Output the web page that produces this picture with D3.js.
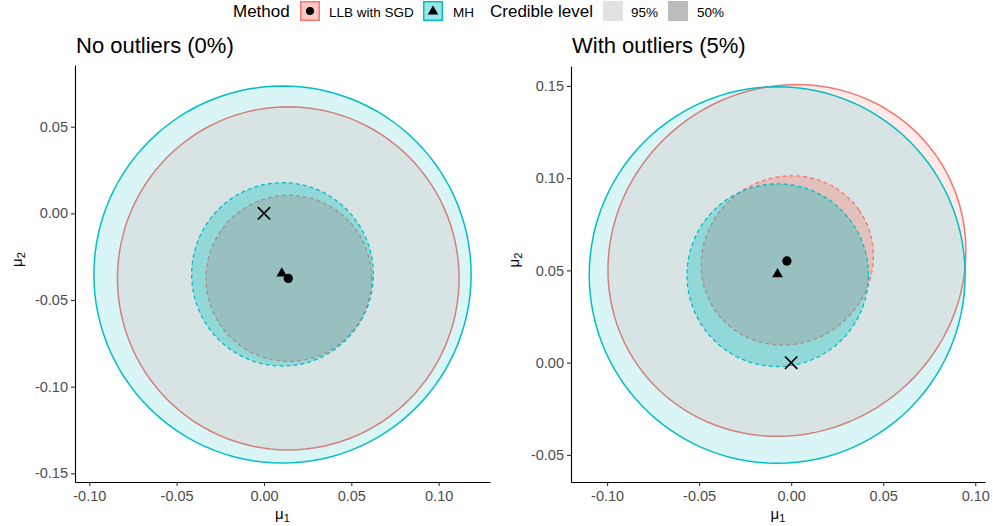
<!DOCTYPE html>
<html>
<head>
<meta charset="utf-8">
<script src="https://cdn.jsdelivr.net/npm/d3@7"></script>
<style>
  body { margin: 0; background: #fff; }
  svg { font-family: "Liberation Sans", Arial, sans-serif; }
</style>
</head>
<body>
<div id="chart"></div>
<script>
// ---- data ----
const methods = ["LLB with SGD", "MH"];
const levels = ["95%", "50%"];
const panelTitles = ["No outliers (0%)", "With outliers (5%)"];

const xDomains = [[-0.1082, 0.1294], [-0.1196, 0.1053]];
const yDomains = [[-0.155, 0.0856], [-0.0647, 0.1608]];
const xTicks = [[-0.10, -0.05, 0.00, 0.05, 0.10], [-0.10, -0.05, 0.00, 0.05, 0.10]];
const yTicks = [[-0.15, -0.10, -0.05, 0.00, 0.05], [-0.05, 0.00, 0.05, 0.10, 0.15]];

// ellipses: panel, method, level, centre, semi axes, rotation (deg)
const ellipsePanel  = [0, 0, 0, 0, 1, 1, 1, 1];
const ellipseMethod = ["LLB with SGD", "MH", "LLB with SGD", "MH", "LLB with SGD", "MH", "LLB with SGD", "MH"];
const ellipseLevel  = ["95%", "95%", "50%", "50%", "95%", "95%", "50%", "50%"];
const ellipseCx     = [0.0139, 0.0106, 0.0142, 0.0106, -0.0023, -0.0076, -0.0021, -0.0073];
const ellipseCy     = [-0.0375, -0.0353, -0.0375, -0.0352, 0.0554, 0.0475, 0.0554, 0.0474];
const ellipseA      = [0.0978, 0.1080, 0.0474, 0.0520, 0.0990, 0.1021, 0.0476, 0.0493];
const ellipseB      = [0.0990, 0.1088, 0.0479, 0.0529, 0.0935, 0.1021, 0.0450, 0.0495];
const ellipseAngle  = [0, 0, 0, 0, 35, 0, 35, 0];

// point estimates and true value
const meanPanel  = [0, 0, 1, 1];
const meanMethod = ["MH", "LLB with SGD", "MH", "LLB with SGD"];
const meanX      = [0.0102, 0.0139, -0.0074, -0.0023];
const meanY      = [-0.0347, -0.0375, 0.0480, 0.0551];
const trueX = [0, 0];
const trueY = [0, 0];

// ---- layout ----
const width = 993, height = 526;
const panels = [
  { left: 75, right: 490, top: 65, bottom: 482 },
  { left: 571, right: 985, top: 66, bottom: 482 }
];
const colors = d3.scaleOrdinal().domain(methods).range(["#F8766D", "#00BFC4"]);
const alpha = d3.scaleOrdinal().domain(levels).range([0.15, 0.33]);
const dash = d3.scaleOrdinal().domain(levels).range([null, "4,3"]);
const lineW = d3.scaleOrdinal().domain(levels).range([1.5, 1.3]);

const svg = d3.select("#chart").append("svg")
  .attr("width", width).attr("height", height);

const fmt = d => d3.format(".2f")(d).replace("\u2212", "-");

const ellipses = ellipsePanel.map((p, i) => ({
  panel: p, method: ellipseMethod[i], level: ellipseLevel[i],
  cx: ellipseCx[i], cy: ellipseCy[i], a: ellipseA[i], b: ellipseB[i], angle: ellipseAngle[i]
}));
const means = meanPanel.map((p, i) => ({ panel: p, method: meanMethod[i], x: meanX[i], y: meanY[i] }));

const steps = d3.range(0, 120);

panels.forEach((pn, pi) => {
  const x = d3.scaleLinear().domain(xDomains[pi]).range([pn.left, pn.right]);
  const y = d3.scaleLinear().domain(yDomains[pi]).range([pn.bottom, pn.top]);
  const g = svg.append("g");

  // ellipse outlines + fills
  const line = e => d3.line()
    .x(t => {
      const th = e.angle * Math.PI / 180, u = t / steps.length * 2 * Math.PI;
      return x(e.cx + e.a * Math.cos(u) * Math.cos(th) - e.b * Math.sin(u) * Math.sin(th));
    })
    .y(t => {
      const th = e.angle * Math.PI / 180, u = t / steps.length * 2 * Math.PI;
      return y(e.cy + e.a * Math.cos(u) * Math.sin(th) + e.b * Math.sin(u) * Math.cos(th));
    })
    .curve(d3.curveLinearClosed)(steps);

  ellipses.filter(e => e.panel === pi).forEach(e => {
    g.append("path")
      .attr("d", line(e))
      .attr("fill", colors(e.method))
      .attr("fill-opacity", alpha(e.level))
      .attr("stroke", colors(e.method))
      .attr("stroke-width", lineW(e.level))
      .attr("stroke-dasharray", dash(e.level));
  });

  // true value
  g.append("path")
    .attr("d", d3.symbol(d3.symbolTimes, 100)())
    .attr("transform", `translate(${x(trueX[pi])},${y(trueY[pi])})`)
    .attr("stroke", "#000").attr("stroke-width", 1.7).attr("fill", "none");

  // posterior means
  g.selectAll(".mean")
    .data(means.filter(m => m.panel === pi))
    .enter().append("path")
    .attr("class", "mean")
    .attr("d", d => d.method === "MH"
      ? d3.symbol(d3.symbolTriangle, 50)()
      : d3.symbol(d3.symbolCircle, 68)())
    .attr("transform", d => `translate(${x(d.x)},${y(d.y)})`)
    .attr("fill", "#000");

  // axes
  const xa = g.append("g")
    .attr("transform", `translate(0,${pn.bottom})`)
    .call(d3.axisBottom(x).tickValues(xTicks[pi]).tickFormat(fmt).tickSize(4).tickPadding(5).tickSizeOuter(0));
  const ya = g.append("g")
    .attr("transform", `translate(${pn.left},0)`)
    .call(d3.axisLeft(y).tickValues(yTicks[pi]).tickFormat(fmt).tickSize(4).tickPadding(3).tickSizeOuter(0));
  [xa, ya].forEach(a => {
    a.select(".domain").attr("stroke", "#000").attr("stroke-width", 1.1);
    a.selectAll(".tick line").attr("stroke", "#333").attr("stroke-width", 1.1);
    a.selectAll(".tick text").attr("fill", "#4d4d4d").style("font-size", "14.5px");
  });

  // axis titles
  const xt = g.append("text")
    .attr("x", (pn.left + pn.right) / 2).attr("y", 519)
    .attr("text-anchor", "middle").style("font-size", "15px").attr("fill", "#000");
  xt.append("tspan").text("\u03bc");
  xt.append("tspan").attr("dy", 3).style("font-size", "11px").text("1");

  const yt = g.append("text")
    .attr("transform", `translate(${pn.left - (pi === 0 ? 53 : 52)},${(pn.top + pn.bottom) / 2 - 14}) rotate(-90)`)
    .attr("text-anchor", "middle").style("font-size", "15px").attr("fill", "#000");
  yt.append("tspan").text("\u03bc");
  yt.append("tspan").attr("dy", 3).style("font-size", "11px").text("2");

  // panel title
  g.append("text")
    .attr("x", pn.left + 1).attr("y", 53)
    .style("font-size", "22px").attr("fill", "#000")
    .text(panelTitles[pi]);
});

// ---- legend ----
const lg = svg.append("g");
const ly = 16.5;
lg.append("text").attr("x", 233).attr("y", ly + 0.5).style("font-size", "17px").text("Method");

const methodKeyX = [300, 423];
const methodTextX = [329, 453];
methods.forEach((m, i) => {
  lg.append("rect")
    .attr("x", methodKeyX[i] + 0.75).attr("y", 1.75).attr("width", 18.5).attr("height", 18.5)
    .attr("fill", colors(m)).attr("fill-opacity", 0.4)
    .attr("stroke", colors(m)).attr("stroke-width", 1.5);
  lg.append("path")
    .attr("d", m === "MH" ? d3.symbol(d3.symbolTriangle, 48)() : d3.symbol(d3.symbolCircle, 50)())
    .attr("transform", `translate(${methodKeyX[i] + 10},${m === "MH" ? 11.5 : 11})`)
    .attr("fill", "#000");
  lg.append("text").attr("x", methodTextX[i]).attr("y", ly)
    .style("font-size", "13.5px").text(m);
});

lg.append("text").attr("x", 490).attr("y", ly + 0.5).style("font-size", "17px").text("Credible level");
const levelKeyX = [603, 668];
const levelTextX = [631, 697];
levels.forEach((l, i) => {
  lg.append("rect")
    .attr("x", levelKeyX[i]).attr("y", 1).attr("width", 20).attr("height", 20)
    .attr("fill", "#333333").attr("fill-opacity", alpha(l));
  lg.append("text").attr("x", levelTextX[i]).attr("y", ly)
    .style("font-size", "13.5px").text(l);
});
</script>
</body>
</html>
